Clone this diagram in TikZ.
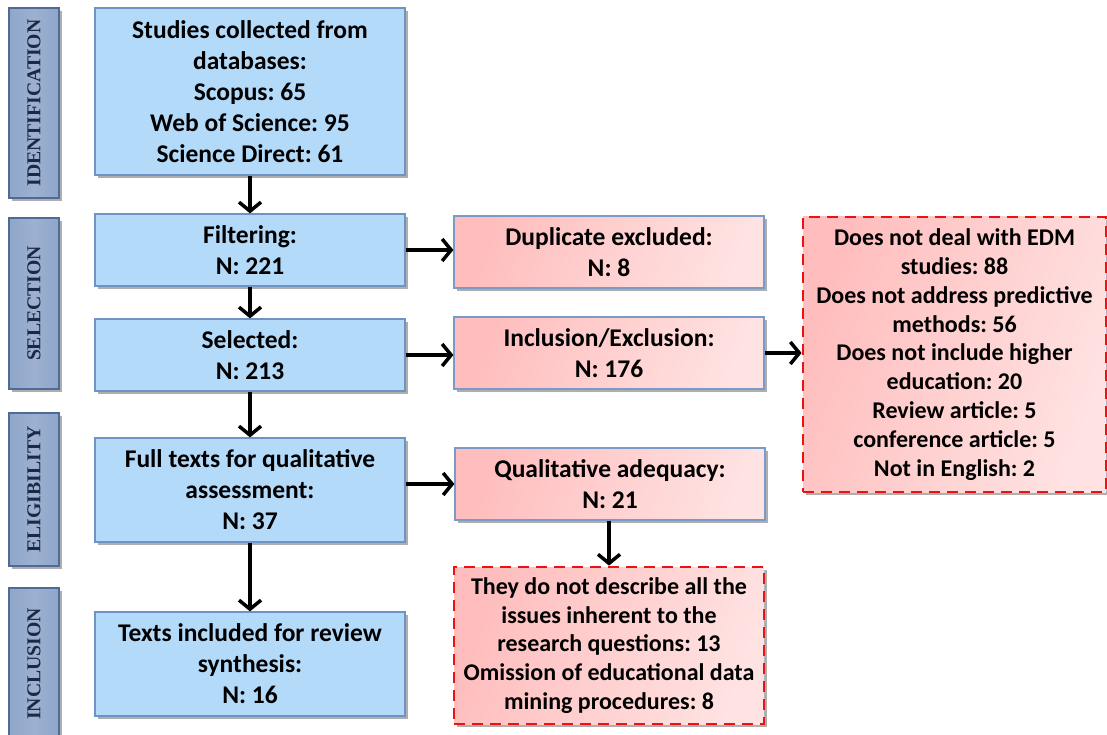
\documentclass[tikz,border=0pt]{standalone}
\usepackage{fontspec}
\setmainfont{Carlito}
\newfontfamily\sidefont{Liberation Serif}
\usetikzlibrary{arrows.meta,shadows,calc}
\definecolor{bluefill}{HTML}{B4DAFA}
\definecolor{blueborder}{HTML}{6F93C4}
\definecolor{pinkA}{HTML}{FFBDBD}
\definecolor{pinkB}{HTML}{FFE2E2}
\definecolor{pinkborder}{HTML}{7A9AC8}
\definecolor{sidefill}{HTML}{8FA6C9}
\definecolor{sideB}{HTML}{9CB1D1}
\definecolor{sideborder}{HTML}{4F6A96}
\definecolor{sidetext}{HTML}{1C2945}
\definecolor{dashred}{HTML}{EE1111}
\tikzset{
  boxbase/.style={line width=1.2pt, minimum width=310pt, align=center, inner sep=0pt,
    font=\frenchspacing\bfseries\fontsize{25.5}{31}\selectfont,
    drop shadow={shadow xshift=3pt, shadow yshift=-3pt, opacity=0.45, fill=black!70}},
  bluebox/.style={boxbase, draw=blueborder, fill=bluefill},
  pinkbox/.style={boxbase, draw=pinkborder, left color=pinkA, right color=pinkB, shading angle=70},
  redbox/.style={boxbase, draw=dashred, line width=2.8pt, dash pattern=on 11pt off 7pt,
    left color=pinkA, right color=pinkB, shading angle=70,
    font=\frenchspacing\bfseries\fontsize{24}{28.8}\selectfont},
  sidebar/.style={draw=sideborder, line width=1.2pt, minimum width=50pt, inner sep=0pt,
    left color=sidefill, right color=sidefill, middle color=sideB,
    drop shadow={shadow xshift=3pt, shadow yshift=-3pt, opacity=0.45, fill=black!70}},
  sidelabel/.style={rotate=90, text=sidetext, font=\sidefont\bfseries\fontsize{19.7}{20}\selectfont},
  arr/.style={line width=3.5pt, -{Straight Barb[length=9pt,width=22pt]}}
}
\begin{document}
\begin{tikzpicture}[x=1pt,y=-1pt]
\useasboundingbox (0,0) rectangle (1107,735);
\fill[white] (0,0) rectangle (1107,735);
% side bars
\node[sidebar, minimum height=190pt] (sid) at (34,103) {};
\node[sidelabel] (lid) at (sid.center) {IDENTIFICATION};
\node[sidebar, minimum height=171pt] (ssel) at (34,303.5) {};
\node[sidelabel] (lsel) at (ssel.center) {SELECTION};
\node[sidebar, minimum height=153pt] (selig) at (34,489.5) {};
\node[sidelabel] (lelig) at (selig.center) {ELIGIBILITY};
\node[sidebar, minimum height=152pt] (sincl) at (34,664) {};
\node[sidelabel] (lincl) at (sincl.center) {INCLUSION};
% main column
\node[bluebox, minimum height=167pt] (b1) at (250,91.5) {Studies collected from\\databases:\\Scopus: 65\\Web of Science: 95\\Science Direct: 61};
\node[bluebox, minimum height=72pt] (filt) at (250,250) {Filtering:\\N: 221};
\node[bluebox, minimum height=72pt] (sel) at (250,355) {Selected:\\N: 213};
\node[bluebox, minimum height=104pt] (full) at (250,490) {Full texts for qualitative\\assessment:\\N: 37};
\node[bluebox, minimum height=104pt] (incl) at (250,664) {Texts included for review\\synthesis:\\N: 16};
% right column
\node[pinkbox, minimum height=72pt] (dup) at (609,252) {Duplicate excluded:\\N: 8};
\node[pinkbox, minimum height=72pt] (inex) at (609,353) {Inclusion/Exclusion:\\N: 176};
\node[pinkbox, minimum height=72pt] (qual) at (610,484) {Qualitative adequacy:\\N: 21};
\node[redbox, minimum width=303pt, minimum height=275pt] (big) at (954.5,354.5)
  {Does not deal with EDM\\studies: 88\\Does not address predictive\\methods: 56\\Does not include higher\\education: 20\\Review article: 5\\conference article: 5\\Not in English: 2};
\node[redbox, minimum height=157pt] (bot) at (609,645.5)
  {They do not describe all the\\issues inherent to the\\research questions: 13\\Omission of educational data\\mining procedures: 8};
% arrows
\draw[arr] (b1.south) -- (filt.north);
\draw[arr] (filt.south) -- (sel.north);
\draw[arr] (sel.south) -- (full.north);
\draw[arr] (full.south) -- (incl.north);
\draw[arr] (filt.east) -- (filt.east -| dup.west);
\draw[arr] (sel.east) -- (sel.east -| inex.west);
\draw[arr] (qual.west -| full.east) -- (qual.west);
\draw[arr] (inex.east) -- (inex.east -| big.west);
\draw[arr] (qual.south -| bot.north) -- (bot.north);
\end{tikzpicture}
\end{document}
